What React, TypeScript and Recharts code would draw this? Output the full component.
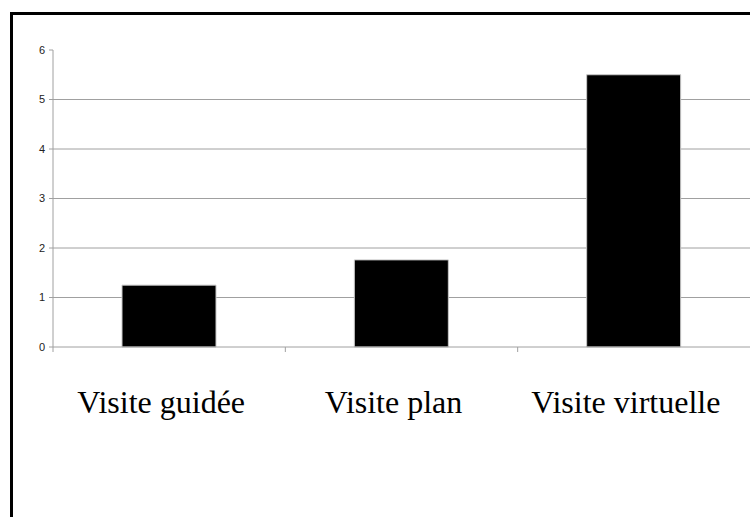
import { BarChart, Bar, XAxis, YAxis, CartesianGrid } from "recharts"

const categories = ["Visite guidée", "Visite plan", "Visite virtuelle"]
const values = [1.25, 1.76, 5.5]
const yTicks = [0, 1, 2, 3, 4, 5, 6]
const gridValues = [1, 2, 3, 4, 5]

const data = categories.map((name, i) => ({ name, value: values[i] }))

const GRAY = "#a0a0a0"

function CategoryTick(props: any) {
  const { x, y, payload } = props
  const half = payload?.offset ?? 0
  return (
    <g>
      <line x1={x - half} y1={y} x2={x - half} y2={y + 5} stroke={GRAY} />
      <text
        x={x - 8}
        y={y + 66}
        textAnchor="middle"
        fontFamily="'Liberation Serif', 'Times New Roman', serif"
        fontSize={32}
        fill="#000"
      >
        {payload.value}
      </text>
    </g>
  )
}

export default function App() {
  return (
    <div style={{ position: "absolute", left: 0, top: 0, width: 750, height: 517, overflow: "hidden", background: "#fff" }}>
      <div
        style={{
          position: "absolute",
          left: 10,
          top: 12,
          width: 800,
          height: 600,
          border: "3px solid #000",
          boxSizing: "border-box",
        }}
      />
      <div style={{ position: "absolute", left: 0, top: 0 }}>
        <BarChart width={750} height={517} data={data} margin={{ top: 50, right: 0, bottom: 90, left: 0 }}>
          <CartesianGrid horizontal vertical={false} horizontalValues={gridValues} stroke={GRAY} />
          <XAxis
            dataKey="name"
            height={80}
            axisLine={{ stroke: GRAY }}
            tickLine={false}
            tickSize={0}
            tickMargin={0}
            interval={0}
            tick={<CategoryTick />}
          />
          <YAxis
            width={53}
            domain={[0, 6]}
            ticks={yTicks}
            interval={0}
            axisLine={{ stroke: GRAY }}
            tickLine={{ stroke: GRAY }}
            tickSize={4}
            tickMargin={4}
            tick={{ fontFamily: "'Liberation Sans', Arial, sans-serif", fontSize: 11, fill: "#222" }}
          />
          <Bar dataKey="value" fill="#000" stroke="#c8c8c8" strokeWidth={1} barSize={94} isAnimationActive={false} />
        </BarChart>
      </div>
    </div>
  )
}
